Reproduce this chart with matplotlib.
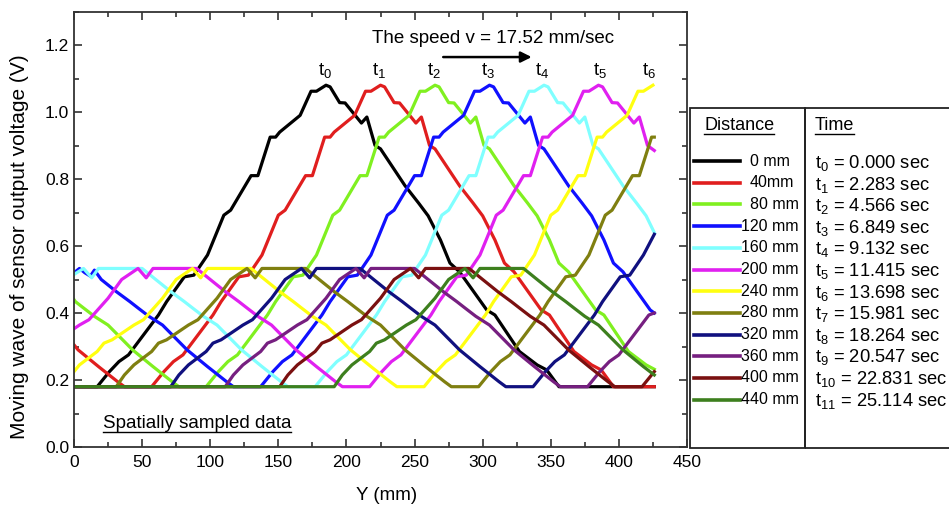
import matplotlib
matplotlib.use('Agg')
import matplotlib.pyplot as plt
import matplotlib.ticker as mtick
from matplotlib.lines import Line2D
from matplotlib.patches import Rectangle

plt.rcParams['font.family'] = ['Liberation Sans', 'DejaVu Sans']
plt.rcParams['mathtext.default'] = 'regular'

# spatially sampled voltage, one curve per sensor distance (x in mm, v in volts)
x_0 = [0, 17, 26, 33, 40, 62, 68, 81, 88, 98, 110, 115, 130, 135, 144, 148, 151, 166, 174, 178,
       185, 188, 195, 199, 211, 215, 221, 225, 243, 253, 260, 269, 276, 283, 303, 309, 327, 340, 347, 356, 426]
v_0 = [0.18, 0.18, 0.225, 0.255, 0.275, 0.394, 0.434, 0.508, 0.513, 0.573, 0.692, 0.707, 0.81, 0.81, 0.925, 0.925, 0.94, 0.99, 1.062, 1.062,
       1.08, 1.075, 1.028, 1.027, 0.967, 0.985, 0.90, 0.89, 0.78, 0.728, 0.69, 0.618, 0.549, 0.523, 0.409, 0.394, 0.285, 0.245, 0.23, 0.18, 0.18]

x_40 = [0, 3, 18, 32, 37, 57, 66, 73, 80, 102, 108, 121, 128, 138, 150, 155, 170, 175, 184, 188, 191, 206, 214, 218, 225,
        228, 235, 239, 251, 255, 261, 265, 283, 293, 300, 309, 316, 323, 343, 349, 367, 380, 387, 396, 426]
v_40 = [0.305, 0.29, 0.24, 0.195, 0.18, 0.18, 0.225, 0.255, 0.275, 0.394, 0.434, 0.508, 0.513, 0.573, 0.692, 0.707, 0.81, 0.81, 0.925, 0.925, 0.94, 0.99, 1.062, 1.062, 1.08,
        1.075, 1.028, 1.027, 0.967, 0.985, 0.90, 0.89, 0.78, 0.728, 0.69, 0.618, 0.549, 0.523, 0.409, 0.394, 0.285, 0.245, 0.23, 0.18, 0.18]

x_80 = [0, 1, 7, 15, 25, 43, 58, 72, 77, 97, 106, 113, 120, 142, 148, 161, 168, 178, 190, 195, 210, 215, 224, 228, 231,
        246, 254, 258, 265, 268, 275, 279, 291, 295, 301, 305, 323, 333, 340, 349, 356, 363, 383, 389, 407, 420, 426]
v_80 = [0.44, 0.434, 0.415, 0.39, 0.364, 0.29, 0.24, 0.195, 0.18, 0.18, 0.225, 0.255, 0.275, 0.394, 0.434, 0.508, 0.513, 0.573, 0.692, 0.707, 0.81, 0.81, 0.925, 0.925, 0.94,
        0.99, 1.062, 1.062, 1.08, 1.075, 1.028, 1.027, 0.967, 0.985, 0.90, 0.89, 0.78, 0.728, 0.69, 0.618, 0.549, 0.523, 0.409, 0.394, 0.285, 0.245, 0.232]

x_120 = [0, 4, 8, 12, 15, 20, 31, 41, 47, 55, 65, 83, 98, 112, 117, 137, 146, 153, 160, 182, 188, 201, 208, 218, 230, 235, 250, 255,
         264, 268, 271, 286, 294, 298, 305, 308, 315, 319, 331, 335, 341, 345, 363, 373, 380, 389, 396, 403, 423, 426]
v_120 = [0.52, 0.533, 0.52, 0.51, 0.528, 0.50, 0.464, 0.434, 0.415, 0.39, 0.364, 0.29, 0.24, 0.195, 0.18, 0.18, 0.225, 0.255, 0.275, 0.394, 0.434, 0.508, 0.513, 0.573, 0.692, 0.707, 0.81, 0.81,
         0.925, 0.925, 0.94, 0.99, 1.062, 1.062, 1.08, 1.075, 1.028, 1.027, 0.967, 0.985, 0.90, 0.89, 0.78, 0.728, 0.69, 0.618, 0.549, 0.523, 0.409, 0.40]

x_160 = [0, 7, 13, 18, 50, 60, 71, 81, 87, 95, 105, 123, 138, 152, 157, 177, 186, 193, 200, 222, 228, 241, 248, 258, 270,
         275, 290, 295, 304, 308, 311, 326, 334, 338, 345, 348, 355, 359, 371, 375, 381, 385, 403, 413, 420, 426]
v_160 = [0.515, 0.533, 0.505, 0.533, 0.533, 0.50, 0.464, 0.434, 0.415, 0.39, 0.364, 0.29, 0.24, 0.195, 0.18, 0.18, 0.225, 0.255, 0.275, 0.394, 0.434, 0.508, 0.513, 0.573, 0.692,
         0.707, 0.81, 0.81, 0.925, 0.925, 0.94, 0.99, 1.062, 1.062, 1.08, 1.075, 1.028, 1.027, 0.967, 0.985, 0.90, 0.89, 0.78, 0.728, 0.69, 0.64]

x_200 = [0, 4, 11, 25, 35, 47, 53, 58, 90, 100, 111, 121, 127, 135, 145, 163, 178, 192, 197, 217, 226, 233, 240, 262, 268,
         281, 288, 298, 310, 315, 330, 335, 344, 348, 351, 366, 374, 378, 385, 388, 395, 399, 411, 415, 421, 426]
v_200 = [0.353, 0.364, 0.38, 0.444, 0.50, 0.533, 0.505, 0.533, 0.533, 0.50, 0.464, 0.434, 0.415, 0.39, 0.364, 0.29, 0.24, 0.195, 0.18, 0.18, 0.225, 0.255, 0.275, 0.394, 0.434,
         0.508, 0.513, 0.573, 0.692, 0.707, 0.81, 0.81, 0.925, 0.925, 0.94, 0.99, 1.062, 1.062, 1.08, 1.075, 1.028, 1.027, 0.967, 0.985, 0.90, 0.885]

x_240 = [0, 4, 17, 22, 28, 44, 51, 65, 75, 87, 93, 98, 130, 140, 151, 161, 167, 175, 185, 203, 218, 232,
         237, 257, 266, 273, 280, 302, 308, 321, 328, 338, 350, 355, 370, 375, 384, 388, 391, 406, 414, 418, 425]
v_240 = [0.225, 0.245, 0.285, 0.31, 0.32, 0.364, 0.38, 0.444, 0.50, 0.533, 0.505, 0.533, 0.533, 0.50, 0.464, 0.434, 0.415, 0.39, 0.364, 0.29, 0.24, 0.195,
         0.18, 0.18, 0.225, 0.255, 0.275, 0.394, 0.434, 0.508, 0.513, 0.573, 0.692, 0.707, 0.81, 0.81, 0.925, 0.925, 0.94, 0.99, 1.062, 1.062, 1.08]

x_280 = [0, 31, 37, 44, 57, 62, 68, 84, 91, 105, 115, 127, 133, 138, 170, 180, 191, 201, 207, 215,
         225, 243, 258, 272, 277, 297, 306, 313, 320, 342, 348, 361, 368, 378, 390, 395, 410, 415, 424, 426]
v_280 = [0.18, 0.18, 0.215, 0.245, 0.285, 0.31, 0.32, 0.364, 0.38, 0.444, 0.50, 0.533, 0.505, 0.533, 0.533, 0.50, 0.464, 0.434, 0.415, 0.39,
         0.364, 0.29, 0.24, 0.195, 0.18, 0.18, 0.225, 0.255, 0.275, 0.394, 0.434, 0.508, 0.513, 0.573, 0.692, 0.707, 0.81, 0.81, 0.925, 0.925]

x_320 = [0, 71, 77, 84, 97, 102, 108, 124, 131, 145, 155, 167, 173, 178, 210, 220, 231, 241,
         247, 255, 265, 283, 298, 312, 317, 337, 346, 353, 360, 382, 388, 401, 408, 418, 426]
v_320 = [0.18, 0.18, 0.215, 0.245, 0.285, 0.31, 0.32, 0.364, 0.38, 0.444, 0.50, 0.533, 0.505, 0.533, 0.533, 0.50, 0.464, 0.434,
         0.415, 0.39, 0.364, 0.29, 0.24, 0.195, 0.18, 0.18, 0.225, 0.255, 0.275, 0.394, 0.434, 0.508, 0.513, 0.573, 0.635]

x_360 = [0, 111, 117, 124, 137, 142, 148, 164, 171, 185, 195, 207, 213, 218, 250, 260,
         271, 281, 287, 295, 305, 323, 338, 352, 357, 377, 386, 393, 400, 422, 426]
v_360 = [0.18, 0.18, 0.215, 0.245, 0.285, 0.31, 0.32, 0.364, 0.38, 0.444, 0.50, 0.533, 0.505, 0.533, 0.533, 0.50,
         0.464, 0.434, 0.415, 0.39, 0.364, 0.29, 0.24, 0.195, 0.18, 0.18, 0.225, 0.255, 0.275, 0.394, 0.40]

x_400 = [0, 151, 157, 164, 177, 182, 188, 204, 211, 225, 235, 247, 253, 258,
         290, 300, 311, 321, 327, 335, 345, 363, 378, 392, 397, 417, 426]
v_400 = [0.18, 0.18, 0.215, 0.245, 0.285, 0.31, 0.32, 0.364, 0.38, 0.444, 0.50, 0.533, 0.505, 0.533,
         0.533, 0.50, 0.464, 0.434, 0.415, 0.39, 0.364, 0.29, 0.24, 0.195, 0.18, 0.18, 0.225]

x_440 = [0, 191, 197, 204, 217, 222, 228, 244, 251, 265, 275, 287,
         293, 298, 330, 340, 351, 361, 367, 375, 385, 403, 418, 426]
v_440 = [0.18, 0.18, 0.215, 0.245, 0.285, 0.31, 0.32, 0.364, 0.38, 0.444, 0.50, 0.533,
         0.505, 0.533, 0.533, 0.50, 0.464, 0.434, 0.415, 0.39, 0.364, 0.29, 0.24, 0.215]

dist_labels = ['0 mm', '40mm', '80 mm', '120 mm', '160 mm', '200 mm',
               '240 mm', '280 mm', '320 mm', '360 mm', '400 mm', '440 mm']
times = ['0.000', '2.283', '4.566', '6.849', '9.132', '11.415',
         '13.698', '15.981', '18.264', '20.547', '22.831', '25.114']
peak_mm = [184, 224, 264, 304, 344, 386, 422]   # where the t0..t6 labels sit

colors = ['#000000', '#e01e1e', '#80f020', '#1010ff', '#80ffff', '#e020f0',
          '#ffff10', '#7f7f10', '#10107f', '#761f80', '#7a1010', '#3d7f1e']

curves = [(x_0, v_0), (x_40, v_40), (x_80, v_80), (x_120, v_120), (x_160, v_160), (x_200, v_200),
          (x_240, v_240), (x_280, v_280), (x_320, v_320), (x_360, v_360), (x_400, v_400), (x_440, v_440)]

W, H = 949, 508
fig = plt.figure(figsize=(W / 100, H / 100), dpi=100)
ax = fig.add_axes([74 / W, 1 - 447 / H, 613 / W, 435.5 / H])

for (xs, vs), c in zip(curves, colors):
    ax.plot(xs, vs, color=c, lw=2.3, solid_joinstyle='round')

ax.set_xlim(0, 450)
ax.set_ylim(0, 1.3)
ax.xaxis.set_major_locator(mtick.MultipleLocator(50))
ax.xaxis.set_minor_locator(mtick.MultipleLocator(25))
ax.yaxis.set_major_locator(mtick.MultipleLocator(0.2))
ax.yaxis.set_minor_locator(mtick.MultipleLocator(0.1))
ax.yaxis.set_major_formatter(mtick.FormatStrFormatter('%.1f'))
ax.tick_params(which='both', direction='in', top=True, right=True, width=1.2, color='#333333')
ax.tick_params(which='major', length=6, labelsize=12.5)
ax.tick_params(axis='x', which='major', pad=6)
ax.tick_params(which='minor', length=3.5)
for s in ax.spines.values():
    s.set_linewidth(1.3)
    s.set_color('#333333')

ax.set_xlabel('Y (mm)', fontsize=13.5)
ax.xaxis.set_label_coords(0.51, -0.1125)
ax.xaxis.label.set_va('center')
ax.set_ylabel('Moving wave of sensor output voltage (V)', fontsize=15)
ax.yaxis.set_label_coords(-0.0897, 0.46)
ax.yaxis.label.set_va('center')

# peak time labels
for i, px in enumerate(peak_mm):
    ax.text(px, 1.125, r'$t_{%d}$' % i, fontsize=13.5, ha='center', va='center')

ax.text(219, 1.22, 'The speed v = 17.52 mm/sec', fontsize=13.5, va='center')
ax.annotate('', xy=(338, 1.164), xytext=(269, 1.164),
            arrowprops=dict(arrowstyle='-|>', color='k', lw=1.8, mutation_scale=16))
t_spatial = ax.text(21, 0.07, 'Spatially sampled data', fontsize=13.5, va='center')


def fx(px):
    return px / W


def fy(py):
    return 1 - py / H


# legend boxes
fig.add_artist(Rectangle((fx(690), fy(448)), fx(805) - fx(690), (448 - 108) / H,
                         transform=fig.transFigure, fill=False, lw=1.3, ec='#222222'))
fig.add_artist(Rectangle((fx(805), fy(448)), (970 - 805) / W, (448 - 108) / H,
                         transform=fig.transFigure, fill=False, lw=1.3, ec='#222222'))

t_dist = fig.text(fx(704), fy(125), 'Distance', fontsize=13, va='center')
t_time = fig.text(fx(815), fy(125), 'Time', fontsize=13, va='center')

for i, (lab, c) in enumerate(zip(dist_labels, colors)):
    yy = fy(161 + 21.7 * i)
    fig.add_artist(Line2D([fx(694), fx(740)], [yy, yy], transform=fig.transFigure, color=c, lw=2.6))
    xl = 741 if len(lab.split()[0].replace('mm', '')) >= 3 else 750
    fig.text(fx(xl), yy, lab, fontsize=11.5, va='center')
    fig.text(fx(815), fy(163 + 21.6 * i), r'$t_{%d}$ = %s sec' % (i, times[i]), fontsize=13.2, va='center')

# underline the headers
fig.canvas.draw()
for t in (t_spatial, t_dist, t_time):
    bb = t.get_window_extent().transformed(fig.transFigure.inverted())
    fig.add_artist(Line2D([bb.x0, bb.x1], [bb.y0, bb.y0], transform=fig.transFigure, color='k', lw=1.0))

fig.savefig('out.png', dpi=100)
